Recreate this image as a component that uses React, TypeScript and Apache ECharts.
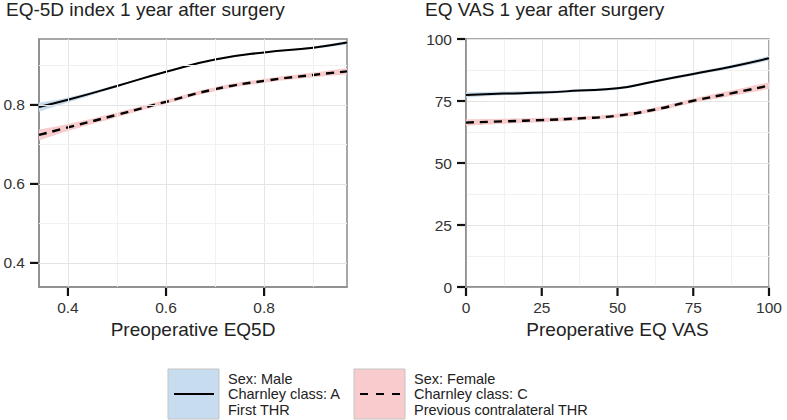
import React, { useEffect, useRef } from "react";
import * as echarts from "echarts";

// Left panel: EQ-5D index
const eqX = [0.341, 0.4, 0.5, 0.6, 0.7, 0.8, 0.9, 0.969];
const eqMale = [0.795, 0.813, 0.848, 0.884, 0.915, 0.933, 0.945, 0.958];
const eqMaleLo = [0.783, 0.806, 0.845, 0.882, 0.913, 0.931, 0.942, 0.953];
const eqMaleHi = [0.806, 0.819, 0.851, 0.886, 0.917, 0.935, 0.948, 0.962];
const eqFemale = [0.724, 0.743, 0.775, 0.808, 0.84, 0.861, 0.876, 0.885];
const eqFemaleLo = [0.71, 0.734, 0.769, 0.803, 0.835, 0.856, 0.87, 0.877];
const eqFemaleHi = [0.738, 0.752, 0.781, 0.813, 0.845, 0.866, 0.882, 0.893];
const eqTicks = [0.4, 0.6, 0.8];
const eqMinor = [0.5, 0.7, 0.9];
const eqYMin = 0.339;
const eqYMax = 0.967;

// Right panel: EQ VAS
const vasX = [0, 12.5, 25, 37.5, 50, 62.5, 75, 87.5, 100];
const vasMale = [77.4, 78.0, 78.4, 79.2, 80.1, 83.0, 85.9, 88.8, 92.2];
const vasMaleLo = [76.4, 77.3, 77.8, 78.7, 79.6, 82.5, 85.3, 88.1, 91.3];
const vasMaleHi = [78.4, 78.8, 79.0, 79.7, 80.6, 83.5, 86.5, 89.5, 93.1];
const vasFemale = [66.3, 66.8, 67.3, 68.0, 69.1, 71.6, 75.1, 78.1, 81.2];
const vasFemaleLo = [65.0, 65.8, 66.4, 67.2, 68.3, 70.8, 74.2, 77.0, 79.8];
const vasFemaleHi = [67.6, 67.8, 68.2, 68.8, 69.9, 72.4, 76.0, 79.2, 82.6];
const vasTicks = [0, 25, 50, 75, 100];

const titles = ["EQ-5D index 1 year after surgery", "EQ VAS 1 year after surgery"];
const xNames = ["Preoperative EQ5D", "Preoperative EQ VAS"];
const legendMale = ["Sex: Male", "Charnley class: A", "First THR"];
const legendFemale = ["Sex: Female", "Charnley class: C", "Previous contralateral THR"];

const FONT = "'Liberation Sans', Arial, sans-serif";
const BLUE = "#c7dcee";
const PINK = "#f8cccc";
const MAJOR = "#e4e4e4";
const MINOR = "#f1f1f1";
const DASH = [8, 6];
const SMOOTH = 0.5;
const TICK_LEN = 8;

const pairs = (xs: number[], ys: number[]) => xs.map((x, i) => [x, ys[i]]);

// Same control-point rule as ECharts' smoothed line (smooth = 0.5)
function smoothSegments(p: number[][]): string {
  let d = "";
  const n = p.length;
  const cps = p.map((pt, i) => {
    if (i === 0 || i === n - 1) return [pt, pt];
    const prev = p[i - 1];
    const next = p[i + 1];
    const vx = next[0] - prev[0];
    const vy = next[1] - prev[1];
    const d0 = Math.hypot(pt[0] - prev[0], pt[1] - prev[1]);
    const d1 = Math.hypot(next[0] - pt[0], next[1] - pt[1]);
    const r0 = d0 / (d0 + d1);
    const r1 = d1 / (d0 + d1);
    return [
      [pt[0] - vx * SMOOTH * r0, pt[1] - vy * SMOOTH * r0],
      [pt[0] + vx * SMOOTH * r1, pt[1] + vy * SMOOTH * r1],
    ];
  });
  for (let i = 0; i < n - 1; i++) {
    const c1 = cps[i][1];
    const c2 = cps[i + 1][0];
    const e = p[i + 1];
    d += ` C ${c1[0]} ${c1[1]} ${c2[0]} ${c2[1]} ${e[0]} ${e[1]}`;
  }
  return d;
}

function band(xs: number[], lo: number[], hi: number[], color: string, idx: number) {
  return {
    type: "custom",
    xAxisIndex: idx,
    yAxisIndex: idx,
    silent: true,
    z: 2,
    clip: true,
    encode: { x: 0, y: 1 },
    data: [[xs[0], lo[0]]],
    renderItem: (_params: any, api: any) => {
      const up = xs.map((x, i) => api.coord([x, hi[i]]));
      const dn = xs.map((x, i) => api.coord([x, lo[i]])).reverse();
      const d =
        `M ${up[0][0]} ${up[0][1]}` +
        smoothSegments(up) +
        ` L ${dn[0][0]} ${dn[0][1]}` +
        smoothSegments(dn) +
        " Z";
      return { type: "path", shape: { pathData: d }, style: { fill: color } };
    },
  };
}

function curve(xs: number[], ys: number[], idx: number, dashed: boolean) {
  return {
    type: "line",
    xAxisIndex: idx,
    yAxisIndex: idx,
    smooth: SMOOTH,
    symbol: "none",
    z: 3,
    lineStyle: { color: "#000", width: dashed ? 2.4 : 2, type: dashed ? DASH : "solid" },
    data: pairs(xs, ys),
  };
}

// Outside tick marks, positioned through the axes' scales
function ticks(vals: number[], idx: number, base: number, vertical: boolean) {
  return {
    type: "custom",
    xAxisIndex: idx,
    yAxisIndex: idx,
    silent: true,
    clip: false,
    z: 10,
    encode: { x: 0, y: 1 },
    data: vals.map((v) => (vertical ? [v, base] : [base, v])),
    renderItem: (_params: any, api: any) => {
      const p = api.coord([api.value(0), api.value(1)]);
      const shape = vertical
        ? { x1: p[0], y1: p[1] + 1, x2: p[0], y2: p[1] + 1 + TICK_LEN }
        : { x1: p[0] - 1, y1: p[1], x2: p[0] - 1 - TICK_LEN, y2: p[1] };
      return { type: "line", shape, style: { stroke: "#111", lineWidth: 2.2 } };
    },
  };
}

const mkLabel = (margin: number, custom?: number[]) => {
  const l: any = { show: true, color: "#333", fontSize: 15.5, fontFamily: FONT, margin };
  if (custom) l.customValues = custom;
  return l;
};
const mkLine = () => ({ show: true, onZero: false, lineStyle: { color: "#8a8a8a", width: 1.5 } });
const mkName = () => ({ color: "#222", fontSize: 19, fontFamily: FONT });

export default function App() {
  const ref = useRef<HTMLDivElement>(null);
  useEffect(() => {
    if (!ref.current) return;
    const chart = echarts.init(ref.current, null, { renderer: "svg" });

    const gl = (color: string) => ({ color, width: 1, type: "solid" });
    const gridLineData = [
      ...eqTicks.map((v) => ({ xAxis: v, lineStyle: gl(MAJOR) })),
      ...eqMinor.map((v) => ({ xAxis: v, lineStyle: gl(MINOR) })),
      ...eqTicks.map((v) => ({ yAxis: v, lineStyle: gl(MAJOR) })),
      ...eqMinor.map((v) => ({ yAxis: v, lineStyle: gl(MINOR) })),
    ];

    const legendItem = (x: number, color: string, dashed: boolean, lines: string[]) => [
      {
        type: "rect",
        shape: { x, y: 369, width: 51, height: 50 },
        style: { fill: color, stroke: "#c4c4c4", lineWidth: 1 },
      },
      {
        type: "line",
        shape: { x1: x + 6, y1: 394, x2: x + 46, y2: 394 },
        style: { stroke: "#000", lineWidth: 2, lineDash: dashed ? [8, 8] : null },
      },
      {
        type: "text",
        x: x + 60,
        y: 394,
        style: {
          text: lines.join("\n"),
          fontSize: 14.5,
          fontFamily: FONT,
          fill: "#222",
          lineHeight: 15.5,
          verticalAlign: "middle",
          align: "left",
        },
      },
    ];

    chart.setOption({
      animation: false,
      backgroundColor: "#fff",
      title: [
        { text: titles[0], left: 6, top: 0, padding: 0, textStyle: { fontSize: 19, fontWeight: "normal", color: "#222", fontFamily: FONT } },
        { text: titles[1], left: 425, top: 0, padding: 0, textStyle: { fontSize: 19, fontWeight: "normal", color: "#222", fontFamily: FONT } },
      ],
      grid: [
        { left: 39, top: 39, width: 308, height: 248, show: true, borderColor: "#8a8a8a", borderWidth: 1.5, backgroundColor: "transparent" },
        { left: 466, top: 39, width: 303, height: 248, show: true, borderColor: "#8a8a8a", borderWidth: 1.5, backgroundColor: "transparent" },
      ],
      xAxis: [
        {
          type: "value",
          gridIndex: 0,
          min: eqX[0],
          max: eqX[eqX.length - 1],
          axisLine: mkLine(),
          axisTick: { show: false },
          axisLabel: mkLabel(12, eqTicks),
          splitLine: { show: false },
          name: xNames[0],
          nameLocation: "middle",
          nameGap: 31,
          nameTextStyle: mkName(),
        },
        {
          type: "value",
          gridIndex: 1,
          min: 0,
          max: 100,
          interval: 25,
          axisLine: mkLine(),
          axisTick: { show: false },
          axisLabel: mkLabel(12),
          splitLine: { show: true, lineStyle: { color: MAJOR, width: 1 } },
          minorTick: { splitNumber: 2 },
          minorSplitLine: { show: true, lineStyle: { color: MINOR, width: 1 } },
          name: xNames[1],
          nameLocation: "middle",
          nameGap: 31,
          nameTextStyle: mkName(),
        },
      ],
      yAxis: [
        {
          type: "value",
          gridIndex: 0,
          min: eqYMin,
          max: eqYMax,
          axisLine: mkLine(),
          axisTick: { show: false },
          axisLabel: mkLabel(14, eqTicks),
          splitLine: { show: false },
        },
        {
          type: "value",
          gridIndex: 1,
          min: 0,
          max: 100,
          interval: 25,
          axisLine: mkLine(),
          axisTick: { show: false },
          axisLabel: mkLabel(14),
          splitLine: { show: true, lineStyle: { color: MAJOR, width: 1 } },
          minorTick: { splitNumber: 2 },
          minorSplitLine: { show: true, lineStyle: { color: MINOR, width: 1 } },
        },
      ],
      series: [
        {
          type: "line",
          xAxisIndex: 0,
          yAxisIndex: 0,
          symbol: "none",
          silent: true,
          z: 1,
          lineStyle: { opacity: 0 },
          data: pairs(eqX, eqMale),
          markLine: {
            silent: true,
            symbol: "none",
            animation: false,
            label: { show: false },
            lineStyle: { type: "solid" },
            data: gridLineData,
          },
        },
        band(eqX, eqMaleLo, eqMaleHi, BLUE, 0),
        band(eqX, eqFemaleLo, eqFemaleHi, PINK, 0),
        curve(eqX, eqMale, 0, false),
        curve(eqX, eqFemale, 0, true),
        band(vasX, vasMaleLo, vasMaleHi, BLUE, 1),
        band(vasX, vasFemaleLo, vasFemaleHi, PINK, 1),
        curve(vasX, vasMale, 1, false),
        curve(vasX, vasFemale, 1, true),
        ticks(eqTicks, 0, eqYMin, true),
        ticks(eqTicks, 0, eqX[0], false),
        ticks(vasTicks, 1, 0, true),
        ticks(vasTicks, 1, 0, false),
      ],
      graphic: [...legendItem(168, BLUE, false, legendMale), ...legendItem(354, PINK, true, legendFemale)],
    });
    return () => chart.dispose();
  }, []);
  return <div ref={ref} style={{ position: "fixed", left: 0, top: 0, width: 787, height: 420 }} />;
}
